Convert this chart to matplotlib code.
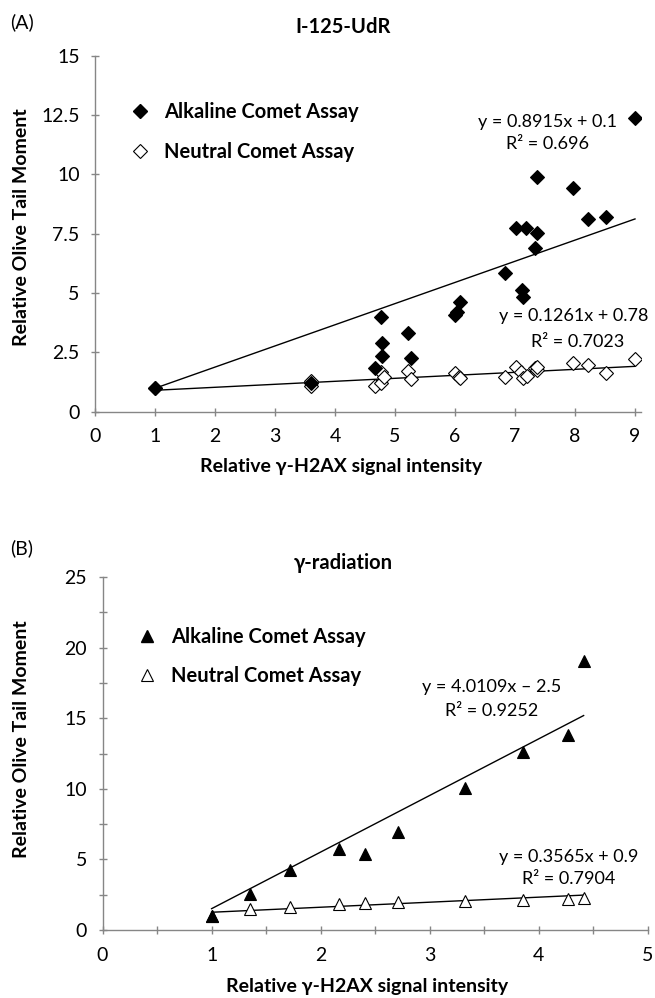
import matplotlib
matplotlib.use("Agg")
import matplotlib.pyplot as plt
import numpy as np
from matplotlib.lines import Line2D
from matplotlib.ticker import MultipleLocator

plt.rcParams['font.family'] = ['Lato', 'DejaVu Sans']

# ============================================================
# Data – panel A (I-125-UdR)
# ============================================================
a_alk_x = [1.0, 3.6, 4.66, 4.78, 4.79, 4.76, 5.21, 5.26, 6.0, 6.04, 6.08, 6.83,
           7.01, 7.11, 7.14, 7.18, 7.33, 7.36, 7.37, 7.96, 8.21, 8.52, 9.0]
a_alk_y = [1.0, 1.2, 1.83, 2.35, 2.91, 3.98, 3.31, 2.25, 4.08, 4.22, 4.64, 5.83,
           7.73, 5.13, 4.85, 7.73, 6.89, 7.52, 9.9, 9.41, 8.11, 8.22, 12.36]
a_neu_x = [1.0, 3.6, 3.6, 4.67, 4.76, 4.76, 4.81, 5.21, 5.26, 6.0, 6.06, 6.08,
           6.83, 7.02, 7.1, 7.14, 7.2, 7.33, 7.36, 7.37, 7.96, 8.21, 8.52, 9.0]
a_neu_y = [1.0, 1.3, 1.1, 1.09, 1.69, 1.2, 1.48, 1.72, 1.37, 1.62, 1.48, 1.41,
           1.48, 1.9, 1.69, 1.41, 1.51, 1.83, 1.76, 1.87, 2.04, 1.97, 1.65, 2.21]
a_fit_alk = (0.8915, 0.1)
a_fit_neu = (0.1261, 0.78)
a_eq_alk = ["y = 0.8915x + 0.1", "R² = 0.696"]
a_eq_neu = ["y = 0.1261x + 0.78", "R² = 0.7023"]

# ============================================================
# Data – panel B (gamma radiation)
# ============================================================
b_alk_x = [1.0, 1.35, 1.72, 2.17, 2.41, 2.71, 3.32, 3.85, 4.27, 4.41]
b_alk_y = [1.0, 2.55, 4.26, 5.74, 5.39, 6.97, 10.05, 12.6, 13.78, 19.03]
b_neu_x = [1.0, 1.35, 1.72, 2.17, 2.41, 2.71, 3.32, 3.85, 4.27, 4.41]
b_neu_y = [1.0, 1.49, 1.61, 1.82, 1.89, 2.0, 2.08, 2.13, 2.18, 2.29]
b_fit_alk = (4.0109, -2.5)
b_fit_neu = (0.3565, 0.9)
b_eq_alk = ["y = 4.0109x \u2013 2.5", "R² = 0.9252"]
b_eq_neu = ["y = 0.3565x + 0.9", "R² = 0.7904"]

AX_GREY = '#868686'
LEG_LABELS = ["Alkaline Comet Assay", "Neutral Comet Assay"]
XLAB = "Relative \u03b3-H2AX signal intensity"
YLAB = "Relative Olive Tail Moment"


def style_axes(ax):
    for s in ('top', 'right'):
        ax.spines[s].set_visible(False)
    for s in ('left', 'bottom'):
        ax.spines[s].set_color(AX_GREY)
        ax.spines[s].set_linewidth(1.0)
    ax.tick_params(which='both', direction='inout', length=6, width=1.0,
                   color=AX_GREY, labelsize=14)
    ax.tick_params(axis='x', pad=9)
    ax.tick_params(axis='y', pad=8)


def trend(ax, xs, coef):
    x = np.array([min(xs), max(xs)])
    ax.plot(x, coef[0] * x + coef[1], color='black', lw=1.0, zorder=2)


def labels(ax, xpos, ypos):
    ax.set_xlabel(XLAB, fontsize=14, fontweight='bold', va='center')
    ax.set_ylabel(YLAB, fontsize=14, fontweight='bold', va='center')
    ax.xaxis.set_label_coords(*xpos)
    ax.yaxis.set_label_coords(*ypos)


fig = plt.figure(figsize=(6.55, 9.98), dpi=100)

# ---------------- Panel A ----------------
axA = fig.add_axes([95 / 655, 1 - 411.8 / 998, 546 / 655, 356.1 / 998])
style_axes(axA)
trend(axA, a_alk_x, a_fit_alk)
trend(axA, a_neu_x, a_fit_neu)
axA.plot(a_neu_x, a_neu_y, ls='none', marker='D', ms=7.5, mfc='white',
         mec='black', mew=0.8, zorder=3)
axA.plot(a_alk_x, a_alk_y, ls='none', marker='D', ms=7.5, mfc='black',
         mec='black', mew=0.8, zorder=4)
axA.set_xlim(0, 9.1)
axA.set_ylim(0, 15)
axA.xaxis.set_major_locator(MultipleLocator(1))
axA.yaxis.set_major_locator(MultipleLocator(2.5))
axA.yaxis.set_major_formatter(lambda v, p: f"{v:g}")
labels(axA, (0.45, -0.155), (-0.134, 0.52))
axA.text(7.55, 12.22, a_eq_alk[0], ha='center', va='center', fontsize=13)
axA.text(7.55, 11.3, a_eq_alk[1], ha='center', va='center', fontsize=13)
axA.text(7.97, 4.04, a_eq_neu[0], ha='center', va='center', fontsize=13)
axA.text(8.04, 2.95, a_eq_neu[1], ha='center', va='center', fontsize=13)
hA = [Line2D([], [], ls='none', marker='D', ms=7.5, mfc='black', mec='black'),
      Line2D([], [], ls='none', marker='D', ms=7.5, mfc='white', mec='black', mew=0.8)]
axA.legend(hA, LEG_LABELS, loc='upper left', bbox_to_anchor=(0.03, 0.922),
           frameon=False, handlelength=1.0, handletextpad=0.7, labelspacing=1.0,
           prop={'weight': 'bold', 'size': 14.5})
fig.text(22 / 655, 1 - 22 / 998, "(A)", ha='center', va='center', fontsize=14)
fig.text(343 / 655, 1 - 27 / 998, "I-125-UdR", ha='center', va='center',
         fontsize=14.5, fontweight='bold')

# ---------------- Panel B ----------------
axB = fig.add_axes([102.5 / 655, 1 - 930 / 998, 545.5 / 655, 353 / 998])
style_axes(axB)
trend(axB, b_alk_x, b_fit_alk)
trend(axB, b_neu_x, b_fit_neu)
axB.plot(b_neu_x, b_neu_y, ls='none', marker='^', ms=9, mfc='white',
         mec='black', mew=0.8, zorder=3)
axB.plot(b_alk_x, b_alk_y, ls='none', marker='^', ms=9, mfc='black',
         mec='black', mew=0.8, zorder=4)
axB.set_xlim(0, 5)
axB.set_ylim(0, 25)
axB.xaxis.set_major_locator(MultipleLocator(1))
axB.xaxis.set_minor_locator(MultipleLocator(0.5))
axB.yaxis.set_major_locator(MultipleLocator(5))
axB.yaxis.set_minor_locator(MultipleLocator(2.5))
labels(axB, (0.485, -0.161), (-0.148, 0.54))
axB.text(3.57, 17.2, b_eq_alk[0], ha='center', va='center', fontsize=13)
axB.text(3.57, 15.5, b_eq_alk[1], ha='center', va='center', fontsize=13)
axB.text(4.27, 5.2, b_eq_neu[0], ha='center', va='center', fontsize=13)
axB.text(4.27, 3.6, b_eq_neu[1], ha='center', va='center', fontsize=13)
hB = [Line2D([], [], ls='none', marker='^', ms=9, mfc='black', mec='black'),
      Line2D([], [], ls='none', marker='^', ms=9, mfc='white', mec='black', mew=0.8)]
axB.legend(hB, LEG_LABELS, loc='upper left', bbox_to_anchor=(0.03, 0.91),
           frameon=False, handlelength=1.0, handletextpad=0.7, labelspacing=0.95,
           prop={'weight': 'bold', 'size': 14.5})
fig.text(22 / 655, 1 - 548 / 998, "(B)", ha='center', va='center', fontsize=14)
fig.text(343 / 655, 1 - 563 / 998, "\u03b3-radiation", ha='center', va='center',
         fontsize=14.5, fontweight='bold')

fig.savefig("out.png", dpi=100)
